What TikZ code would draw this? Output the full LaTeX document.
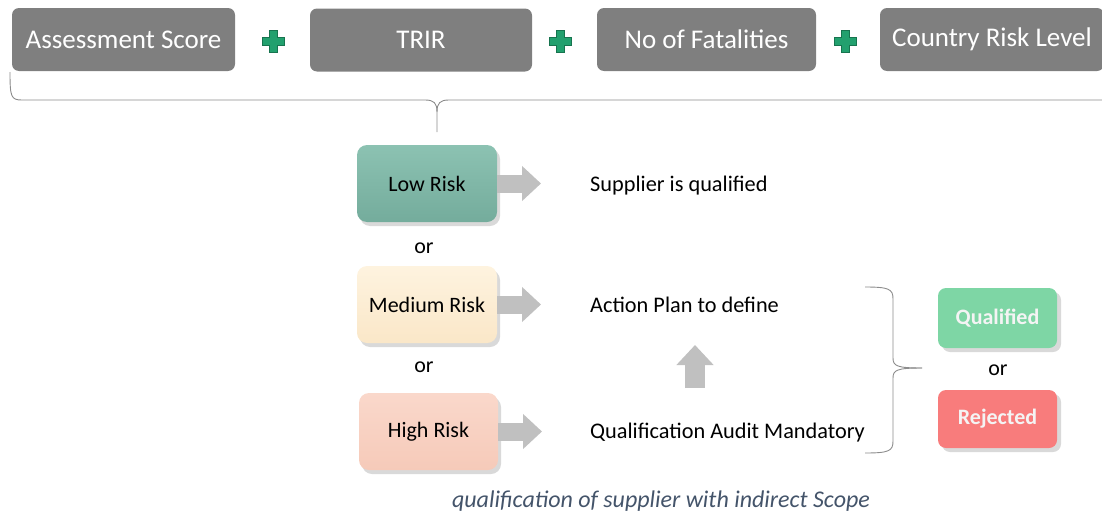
\documentclass[tikz,border=0pt]{standalone}
\usepackage{fontspec}
\setmainfont{Carlito}
\usetikzlibrary{shadows,arrows.meta}
\definecolor{boxgrey}{HTML}{7F7F7F}
\definecolor{plusgreen}{HTML}{22A06E}
\definecolor{plusedge}{HTML}{17744F}
\definecolor{lowtop}{HTML}{8CC2B2}
\definecolor{lowbot}{HTML}{74AC9C}
\definecolor{medtop}{HTML}{FEF3DF}
\definecolor{medbot}{HTML}{FAE7C8}
\definecolor{hightop}{HTML}{FAD8CB}
\definecolor{highbot}{HTML}{F6CAB9}
\definecolor{qualfill}{HTML}{7ED6A5}
\definecolor{rejfill}{HTML}{F87C7C}
\definecolor{arrowgrey}{HTML}{C0C0C0}
\definecolor{bracegrey}{HTML}{8C8C8C}
\definecolor{captioncol}{HTML}{44546A}
\definecolor{restext}{HTML}{F4F4F4}
\tikzset{
  greybox/.style={fill=boxgrey, rounded corners=7pt, text=white, inner sep=0pt,
    minimum height=63pt, font=\fontsize{27}{32}\selectfont},
  riskbox/.style={rounded corners=10pt, inner sep=0pt, minimum width=140pt, minimum height=77pt,
    font=\fontsize{22}{26}\selectfont,
    drop shadow={shadow xshift=3pt, shadow yshift=-4pt, fill=black, opacity=0.15}},
  resultbox/.style={rounded corners=8pt, inner sep=0pt, minimum width=119pt,
    text=restext, font=\bfseries\fontsize{22}{26}\selectfont,
    drop shadow={shadow xshift=4pt, shadow yshift=-4pt, fill=black, opacity=0.15}},
  plaintext/.style={inner sep=0pt, font=\fontsize{22.3}{26}\selectfont, anchor=base west},
  ortext/.style={inner sep=0pt, font=\fontsize{22}{26}\selectfont, anchor=base},
  blockarrow/.style={draw=arrowgrey, line width=18pt,
    -{Triangle[length=19pt, width=34pt]}},
  uparrow/.style={draw=arrowgrey, line width=20pt,
    -{Triangle[length=20pt, width=36pt]}},
  bracepath/.style={draw=bracegrey, line width=0.9pt},
  plussign/.style={fill=plusgreen, draw=plusedge, line width=0.6pt},
}
\begin{document}
\begin{tikzpicture}[x=1pt, y=-1pt]
\useasboundingbox (0,0) rectangle (1102,514);

% top grey boxes
\node[greybox, minimum width=223pt] (assess) at (123.5,39.5) {Assessment Score};
\node[greybox, minimum width=222pt] (trir) at (421,40) {TRIR};
\node[greybox, minimum width=219pt] (fatal) at (706.5,39.5) {No of Fatalities};
\node[greybox, minimum width=224pt] (country) at (992,39.5) {Country Risk Level};

% plus signs
\foreach \px/\nm in {273/plusa, 560/plusb, 845/plusc}{
  \coordinate (\nm) at (\px,41);
  \path[plussign] (\px-4,41-11) -- (\px+4,41-11) -- (\px+4,41-4) -- (\px+11,41-4)
    -- (\px+11,41+4) -- (\px+4,41+4) -- (\px+4,41+11) -- (\px-4,41+11)
    -- (\px-4,41+4) -- (\px-11,41+4) -- (\px-11,41-4) -- (\px-4,41-4) -- cycle;
}

% top brace
\coordinate (braceL) at (10,72);
\coordinate (braceR) at (1104,100);
\coordinate (braceTip) at (437,132);
\draw[bracepath] (braceL) .. controls (10,97) and (11,100) .. (22,100) -- (425,100)
  .. controls (434,100) and (437,103) .. (437,112) -- (braceTip);
\draw[bracepath] (braceR) -- (449,100) .. controls (440,100) and (437,103) .. (437,112);

% risk boxes
\node[riskbox, top color=lowtop, bottom color=lowbot] (low) at (427,183.5) {Low Risk};
\node[riskbox, top color=medtop, bottom color=medbot] (medium) at (427,304.5) {Medium Risk};
\node[riskbox, minimum width=139pt, top color=hightop, bottom color=highbot] (high) at (428.5,431.5) {High Risk};

\node[ortext] (or1) at (424,253) {or};
\node[ortext] (or2) at (424,372) {or};

% outcome texts
\node[plaintext] (supq) at (590,191) {Supplier is qualified};
\node[plaintext] (action) at (590,312) {Action Plan to define};
\node[plaintext] (audit) at (590,438) {Qualification Audit Mandatory};

% block arrows
\coordinate (lowtip) at (541,183.5);
\coordinate (medtip) at (541,304.5);
\coordinate (hightip) at (542,431.5);
\draw[blockarrow] (low.east) -- (lowtip);
\draw[blockarrow] (medium.east) -- (medtip);
\draw[blockarrow] (high.east) -- (hightip);

\coordinate (upstart) at (695,388);
\coordinate (upend) at (695,345);
\draw[uparrow] (upstart) -- (upend);

% right brace
\coordinate (rbTop) at (865,287);
\coordinate (rbBot) at (865,453);
\coordinate (rbTip) at (922,368);
\draw[bracepath] (rbTop) .. controls (889,287) and (893,289) .. (893,299) -- (893,358)
  .. controls (893,366) and (897,368) .. (rbTip);
\draw[bracepath] (rbBot) .. controls (889,453) and (893,451) .. (893,441) -- (893,378)
  .. controls (893,370) and (897,368) .. (rbTip);

% result boxes
\node[resultbox, fill=qualfill, minimum height=60pt] (qual) at (997.5,318) {Qualified};
\node[ortext] (or3) at (998,375) {or};
\node[resultbox, fill=rejfill, minimum height=58pt] (rej) at (997.5,419) {Rejected};

% caption
\node[inner sep=0pt, anchor=base, text=captioncol, font=\itshape\fontsize{24}{28}\selectfont]
  (caption) at (661,507) {qualification of supplier with indirect Scope};
\end{tikzpicture}
\end{document}
